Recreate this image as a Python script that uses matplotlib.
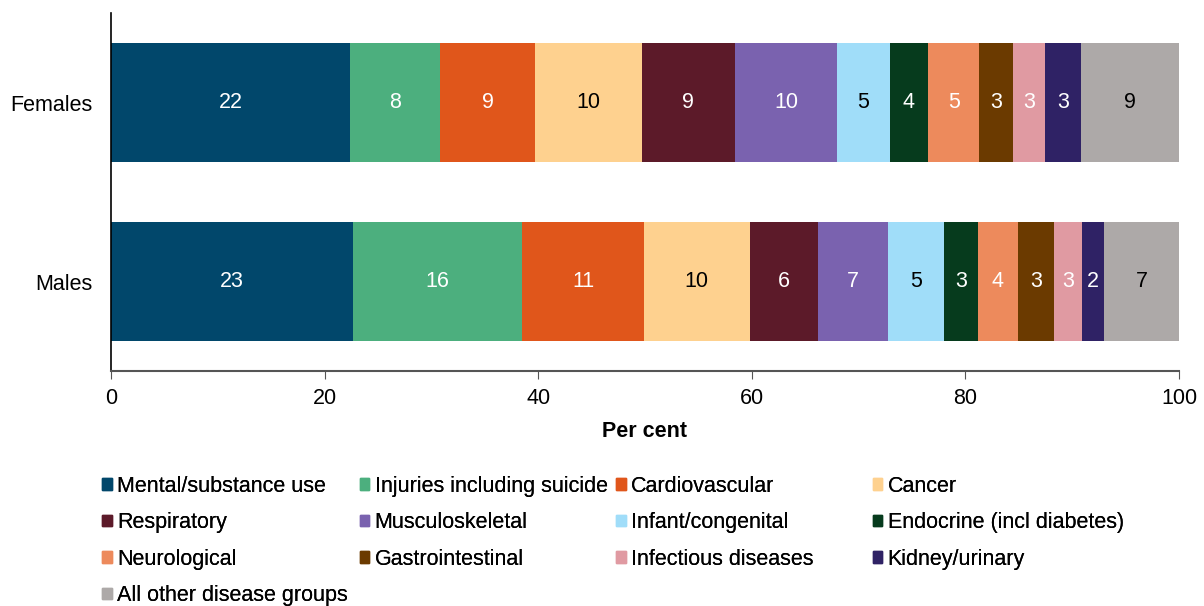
import numpy as np
import matplotlib.pyplot as plt
from matplotlib.patches import Patch

plt.rcParams['font.family'] = ['Liberation Sans', 'DejaVu Sans']

groups = ["Males", "Females"]
causes = ["Mental/substance use", "Injuries including suicide", "Cardiovascular", "Cancer",
          "Respiratory", "Musculoskeletal", "Infant/congenital", "Endocrine (incl diabetes)",
          "Neurological", "Gastrointestinal", "Infectious diseases", "Kidney/urinary",
          "All other disease groups"]
females = [22.4, 8.4, 8.9, 10.0, 8.7, 9.6, 4.9, 3.6, 4.8, 3.2, 3.0, 3.3, 9.3]
males = [22.7, 15.8, 11.4, 9.9, 6.4, 6.6, 5.2, 3.2, 3.7, 3.4, 2.6, 2.1, 7.1]
colours = ["#01476b", "#4caf7e", "#e0561b", "#fed18f", "#5c1a29", "#7a62af", "#a0ddf9",
           "#063b1d", "#ed8a5c", "#6b3a00", "#e09aa2", "#2f2265", "#ada9a8"]
text_colours = ["white", "white", "white", "black", "white", "white", "black",
                "white", "white", "white", "white", "white", "black"]

fs = 15.5
fig = plt.figure(figsize=(12.04, 6.06), dpi=100)
ax = fig.add_axes([0.0922, 0.3878, 0.8870, 0.5907])

data = np.array([males, females])
left = np.zeros(2)
for i, c in enumerate(causes):
    bars = ax.barh([0, 1], data[:, i], left=left, height=0.667, color=colours[i], label=c)
    for j, b in enumerate(bars):
        v = data[j, i]
        ax.text(left[j] + v / 2, j, "%d" % round(v), ha='center', va='center',
                color=text_colours[i], fontsize=fs)
    left += data[:, i]

ax.set_xlim(0, 100)
ax.set_ylim(-0.5, 1.5)
ax.set_yticks([0, 1])
ax.set_yticklabels(groups, fontsize=fs)
ax.set_xticks(np.arange(0, 101, 20))
ax.tick_params(axis='x', labelsize=fs, length=6, color='#555555', pad=6)
ax.tick_params(axis='y', length=0, pad=13)
ax.spines['top'].set_visible(False)
ax.spines['right'].set_visible(False)
ax.spines['bottom'].set_color('#555555')
ax.spines['bottom'].set_linewidth(1.5)
ax.spines['left'].set_linewidth(1.2)
ax.set_xlabel("Per cent", fontsize=fs, fontweight='bold', labelpad=9)

# legend, 4 evenly spaced columns
col_x = [0.0847, 0.2987, 0.5117, 0.7247]
for k in range(4):
    idx = list(range(k, len(causes), 4))
    handles = [Patch(color=colours[i]) for i in idx]
    leg = fig.legend(handles, [causes[i] for i in idx], loc='upper left',
                     bbox_to_anchor=(col_x[k], 0.215), frameon=False, fontsize=fs,
                     handlelength=0.45, handleheight=0.45, handletextpad=0.25,
                     labelspacing=0.72, borderaxespad=0, borderpad=0)
    fig.add_artist(leg)

fig.savefig("out.png", dpi=100)
